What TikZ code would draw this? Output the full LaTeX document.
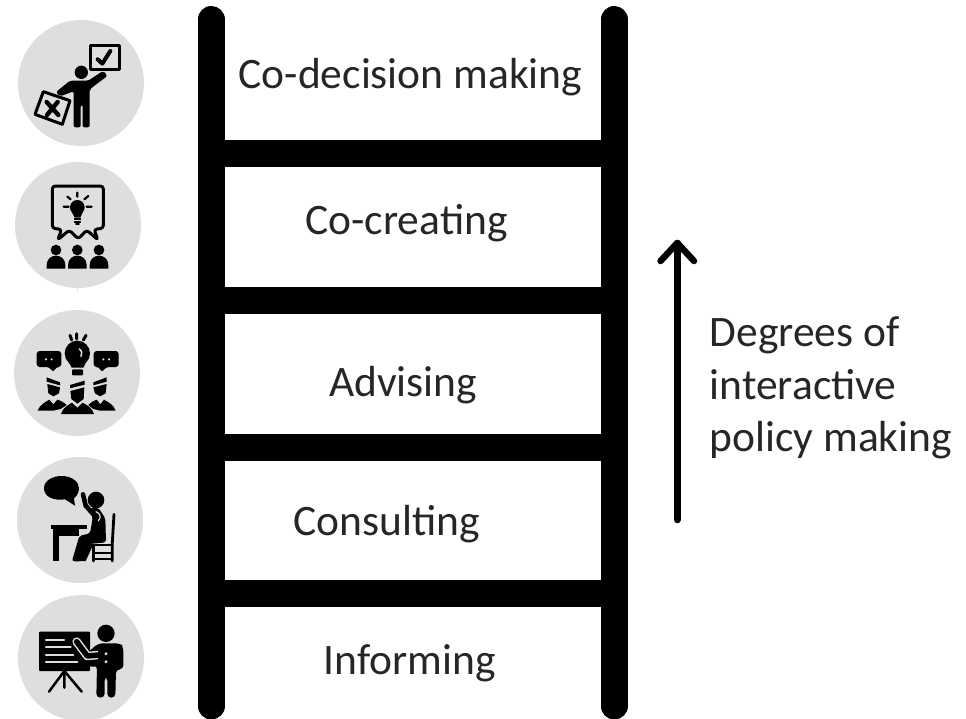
\documentclass[tikz,border=0pt]{standalone}
\usepackage{fontspec}
\setmainfont{Carlito}
\definecolor{disc}{HTML}{DEDEDE}
\tikzset{
  lbl/.style={font=\fontsize{43.5}{52}\selectfont,text=black!85,inner sep=0pt,anchor=base},
  sidelbl/.style={lbl,anchor=base west},
  rail/.style={line width=27pt,line cap=round,black},
  rung/.style={line width=27pt,black},
  badge/.style={circle,fill=disc,minimum size=126pt,inner sep=0pt},
  ink/.style={fill=black,draw=none},
  ln/.style={draw=black,line width=#1pt,line cap=round,line join=round},
  ln/.default=2.3,
  gap/.style={draw=disc,line width=#1pt,line cap=round},
  gap/.default=1.8,
  arrowline/.style={line width=6.5pt,line cap=round,line join=round,black},
  zm/.style={shift={#1},x=.33333pt,y=-.33333pt}
}
\begin{document}
\begin{tikzpicture}[x=1pt,y=-1pt]
\useasboundingbox (0,0) rectangle (966,718);
\begin{scope}
\clip (0,0) rectangle (966,718);
% badges
\node[badge] (b1) at (81,83) {};
\node[badge] (b2) at (78,225) {};
\node[badge] (b3) at (77,373) {};
\node[badge] (b4) at (80,520) {};
\node[badge] (b5) at (81,658) {};
\fill[white] (0,146) rectangle (160,150);
\fill[white] (0,436) rectangle (160,440);
\fill[white] (0,582.5) rectangle (160,586);
\draw[disc!80!white,line width=1pt] (77,287) -- (77,292);
% ladder
\coordinate (lt) at (211,19.5);
\coordinate (lb) at (211,706);
\coordinate (rt) at (614,19.5);
\coordinate (rb) at (614,706);
\draw[rail] (lt) -- (lb);
\draw[rail] (rt) -- (rb);
\foreach \y/\n in {153/a,300/b,447/c,593.5/d}{
  \coordinate (l\n) at (211,\y);
  \coordinate (r\n) at (614,\y);
  \draw[rung] (l\n) -- (r\n);
}
\end{scope}
% labels
\node[lbl] (t1) at (410.5,88) {Co-decision making};
\node[lbl] (t2) at (406.5,234) {Co-creating};
\node[lbl] (t3) at (403,396) {Advising};
\node[lbl] (t4) at (387,535) {Consulting};
\node[lbl] (t5) at (409.5,674) {Informing};
\node[sidelbl] (s1) at (709.5,346) {Degrees of};
\node[sidelbl] (s2) at (709.5,399) {interactive};
\node[sidelbl] (s3) at (709.5,451) {policy making};
% arrow
\coordinate (ab) at (677.3,520);
\coordinate (at) at (677.3,243);
\coordinate (al) at (660.5,261);
\coordinate (ar) at (694,261);
\draw[arrowline] (ab) -- (at);
\draw[arrowline] (al) -- (at) -- (ar);
% icon 1
\begin{scope}[zm={(20,30)}]
\draw[ln=3] (212,45) rectangle (297,118);
\draw[ln=4] (233,88) -- (247,101) -- (271,63);
\fill[black] (184,127) circle[radius=20];
\fill[ink,rounded corners=2pt] (108,186) -- (150,152) -- (205,152) -- (250,122) -- (262,138) -- (209,178) -- (209,292) -- (188,292) -- (188,225) -- (182,225) -- (182,292) -- (161,292) -- (161,184) -- (120,199) -- cycle;
\fill[disc] (45,253) -- (70,185) -- (150,212) -- (127,283) -- cycle;
\draw[ln=3] (45,253) -- (70,185) -- (150,212) -- (127,283) -- cycle;
\draw[ln=4.4] (80,216) -- (115,255) (113,216) -- (81,255);
\end{scope}
% icon 2
\begin{scope}[zm={(20,175)}]
\draw[ln=3,rounded corners=3pt] (97,33) -- (250,33) -- (250,160) -- (222,163) -- (234,195) -- (200,165) -- (175,192) -- (148,165) -- (113,195) -- (125,163) -- (97,160) -- cycle;
\fill[black] (172,97) circle[radius=22];
\fill[ink] (155,110) -- (189,110) -- (181,128) -- (164,128) -- cycle;
\draw[ln=1.7] (164,133) -- (181,133) (164,140) -- (181,140) (168,147) -- (177,147);
\draw[ln=2.2] (172,53) -- (172,65) (142,65) -- (152,73) (205,63) -- (193,73) (131,95) -- (146,95) (200,95) -- (215,95);
\foreach \cx in {108,172,237}{
  \fill[black] (\cx,225) circle[radius=16];
  \fill[ink] (\cx-28,281) -- (\cx-28,270) .. controls (\cx-28,252) and (\cx-14,242) .. (\cx,242) .. controls (\cx+14,242) and (\cx+28,252) .. (\cx+28,270) -- (\cx+28,281) -- cycle;
}
\end{scope}
% icon 3
\begin{scope}[zm={(20,325)}]
\fill[black] (172,85) circle[radius=38];
\fill[ink] (143,105) -- (201,105) -- (190,128) -- (155,128) -- cycle;
\fill[ink,rounded corners=1pt] (156,133) rectangle (189,151);
\draw[gap=1.5] (178,72) .. controls (186,78) and (187,86) .. (183,94);
\draw[ln=3] (150,31) -- (155,45) (170,26) -- (170,42) (198,31) -- (190,45);
\fill[ink,rounded corners=3pt] (50,78) -- (124,78) -- (124,126) -- (108,126) -- (100,143) -- (88,126) -- (50,126) -- cycle;
\fill[ink,rounded corners=3pt] (221,78) -- (296,78) -- (296,126) -- (258,126) -- (245,143) -- (238,126) -- (221,126) -- cycle;
\fill[disc] (78,103) circle[radius=3.5] (95,103) circle[radius=3.5] (250,103) circle[radius=3.5] (267,103) circle[radius=3.5];
% left person
\fill[ink] (80,157) -- (120,172) -- (120,181) -- (80,170) -- cycle;
\fill[ink] (82,177) -- (120,187) -- (117,205) -- (100,214) -- (85,205) -- cycle;
\fill[ink] (53,257) .. controls (60,238) and (75,232) .. (88,224) -- (100,238) -- (112,224) .. controls (120,226) and (132,232) .. (140,240) -- (122,252) -- (100,257) -- cycle;
% right person
\fill[ink] (220,172) -- (260,157) -- (260,170) -- (220,181) -- cycle;
\fill[ink] (220,187) -- (260,177) -- (257,205) -- (240,214) -- (225,205) -- cycle;
\fill[ink] (205,240) .. controls (214,232) and (222,226) .. (230,224) -- (241,238) -- (252,224) .. controls (265,232) and (280,238) .. (287,257) -- (240,257) -- (220,252) -- cycle;
% centre person
\fill[ink] (150,180) -- (194,167) -- (194,179) -- (150,190) -- cycle;
\fill[ink] (151,198) -- (193,187) -- (191,222) -- (172,236) -- (154,222) -- cycle;
\fill[ink] (123,267) .. controls (128,248) and (145,240) .. (156,233) -- (172,248) -- (188,233) .. controls (200,240) and (217,248) .. (222,267) -- cycle;
\end{scope}
% icon 4
\begin{scope}[zm={(30,465)}]
\fill[ink] (42,70) .. controls (42,45) and (70,33) .. (95,33) .. controls (125,33) and (147,50) .. (147,70) .. controls (147,85) and (138,95) .. (132,100) -- (135,122) -- (105,103) .. controls (70,108) and (42,95) .. (42,70) -- cycle;
\fill[black] (198,105) circle[radius=25];
\draw[ln=4.6] (159,88) -- (167,122) -- (192,150);
\fill[ink,rounded corners=2pt] (180,130) -- (205,128) -- (226,160) -- (228,232) -- (168,238) -- (152,290) -- (126,288) -- (148,213) -- (180,205) -- (188,160) -- cycle;
\fill[ink] (148,225) -- (190,238) -- (167,288) -- (148,288) -- cycle;
\draw[gap=1.2] (198,140) .. controls (212,145) and (214,158) .. (205,168);
\fill[ink] (62,179) rectangle (172,193);
\fill[ink] (68,190) rectangle (87,288);
\fill[ink] (85,190) rectangle (148,213);
\draw[ln=2.8] (252,148) -- (247,232) -- (247,288);
\draw[ln=2.8] (186,240) -- (247,240);
\draw[ln=2.5] (190,240) -- (190,288) (192,264) -- (245,264) (192,282) -- (245,282);
\end{scope}
% icon 5
\begin{scope}[zm={(30,610)}]
\fill[ink,rounded corners=1pt] (27,65) rectangle (180,183);
\draw[gap=2.2] (48,90) -- (102,90) (48,112) -- (122,112) (48,134) -- (130,134) (48,156) -- (142,156);
\draw[ln=2.5] (103,183) -- (57,245) (103,183) -- (103,233) (103,183) -- (155,245);
\fill[black] (228,70) circle[radius=26];
\fill[ink,rounded corners=4pt] (205,100) -- (270,100) -- (280,110) -- (280,178) -- (258,178) -- (256,263) -- (232,263) -- (232,200) -- (224,200) -- (224,263) -- (199,263) -- (201,165) -- (180,175) -- (170,130) -- cycle;
\draw[draw=disc,line width=8.5pt,line cap=round,line join=round] (205,135) -- (172,138) -- (140,95);
\draw[draw=black,line width=5.5pt,line cap=round,line join=round] (205,135) -- (172,138) -- (140,95);
\fill[black] (205,120) rectangle (225,160);
\fill[disc] (228,131) circle[radius=5] (228,155) circle[radius=5];
\end{scope}
\end{tikzpicture}
\end{document}
